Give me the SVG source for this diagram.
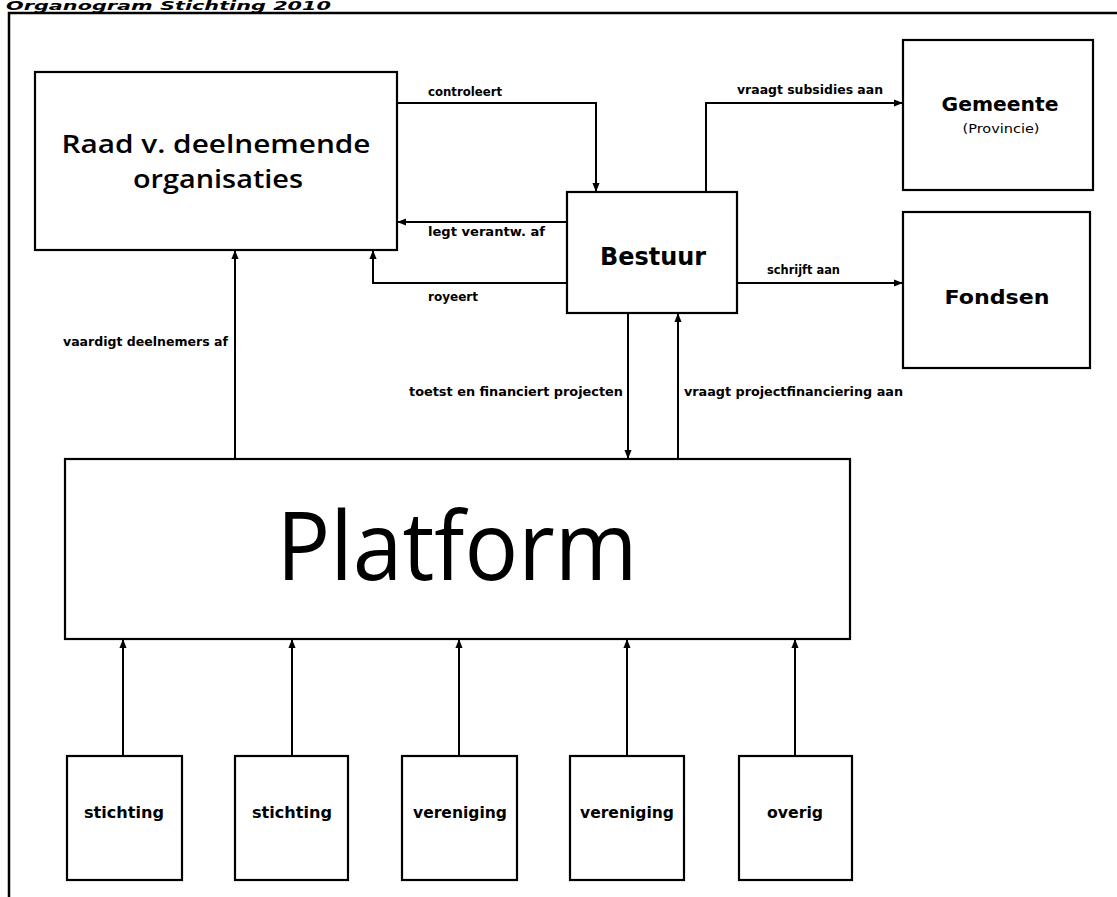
<svg xmlns="http://www.w3.org/2000/svg" width="1117" height="897" viewBox="0 0 1117 897">
<style>
.box{fill:#fff;stroke:#000;stroke-width:2.2}
.ln{fill:none;stroke:#000;stroke-width:2}
.t{font-family:"DejaVu Sans","Liberation Sans",sans-serif;fill:#000}
.big{font-family:"Open Sans","Noto Sans","DejaVu Sans",sans-serif;fill:#000}
.lab{font-family:"DejaVu Sans","Liberation Sans",sans-serif;font-size:12px;font-weight:bold;fill:#000}
.mid{text-anchor:middle}
</style>
<defs>
<marker id="ar" viewBox="0 0 10 10" refX="9" refY="5" markerWidth="9" markerHeight="9" markerUnits="userSpaceOnUse" orient="auto">
<path d="M0,1 L10,5 L0,9 Z" fill="#000"/>
</marker>
</defs>
<rect width="1117" height="897" fill="#fff"/>
<text class="t" x="6" y="10" font-size="12" font-weight="bold" font-style="italic" textLength="325" lengthAdjust="spacingAndGlyphs">Organogram Stichting 2010</text>
<path d="M9,897 L9,13 L1117,13" fill="none" stroke="#000" stroke-width="2.5"/>

<g id="connectors">
<path class="ln" d="M397,103 L596,103 L596,191" marker-end="url(#ar)"/>
<path class="ln" d="M567,222 L398,222" marker-end="url(#ar)"/>
<path class="ln" d="M567,283 L373,283 L373,251" marker-end="url(#ar)"/>
<path class="ln" d="M706,192 L706,103 L902,103" marker-end="url(#ar)"/>
<path class="ln" d="M737,283 L902,283" marker-end="url(#ar)"/>
<path class="ln" d="M235,459 L235,251" marker-end="url(#ar)"/>
<path class="ln" d="M628,313 L628,458" marker-end="url(#ar)"/>
<path class="ln" d="M678,459 L678,314" marker-end="url(#ar)"/>
<path class="ln" d="M123,756 L123,640" marker-end="url(#ar)"/>
<path class="ln" d="M292,756 L292,640" marker-end="url(#ar)"/>
<path class="ln" d="M459,756 L459,640" marker-end="url(#ar)"/>
<path class="ln" d="M627,756 L627,640" marker-end="url(#ar)"/>
<path class="ln" d="M795,756 L795,640" stroke-width="3" marker-end="url(#ar)"/>
<text class="lab" x="428" y="96" textLength="74" lengthAdjust="spacingAndGlyphs">controleert</text>
<text class="lab" x="428" y="236" textLength="117" lengthAdjust="spacingAndGlyphs">legt verantw. af</text>
<text class="lab" x="428" y="301" textLength="50" lengthAdjust="spacingAndGlyphs">royeert</text>
<text class="lab" x="737" y="94" textLength="146" lengthAdjust="spacingAndGlyphs">vraagt subsidies aan</text>
<text class="lab" x="767" y="274" textLength="73" lengthAdjust="spacingAndGlyphs">schrijft aan</text>
<text class="lab" x="63" y="346" textLength="165" lengthAdjust="spacingAndGlyphs">vaardigt deelnemers af</text>
<text class="lab" x="409" y="396" textLength="214" lengthAdjust="spacingAndGlyphs">toetst en financiert projecten</text>
<text class="lab" x="684" y="396" textLength="219" lengthAdjust="spacingAndGlyphs">vraagt projectfinanciering aan</text>
</g>

<g id="raad">
<rect class="box" x="35" y="72" width="362" height="178"/>
<text class="big mid" x="216" y="153" font-size="26" font-weight="600" textLength="309" lengthAdjust="spacingAndGlyphs">Raad v. deelnemende</text>
<text class="big mid" x="218" y="188" font-size="26" font-weight="600" textLength="170" lengthAdjust="spacingAndGlyphs">organisaties</text>
</g>
<g id="bestuur">
<rect class="box" x="567" y="192" width="170" height="121"/>
<text class="t mid" x="653" y="265" font-size="25" font-weight="bold" textLength="106" lengthAdjust="spacingAndGlyphs">Bestuur</text>
</g>
<g id="gemeente">
<rect class="box" x="903" y="40" width="190" height="150"/>
<text class="t mid" x="1000" y="111" font-size="20" font-weight="bold" textLength="117" lengthAdjust="spacingAndGlyphs">Gemeente</text>
<text class="t mid" x="1001" y="133" font-size="13" textLength="77" lengthAdjust="spacingAndGlyphs">(Provincie)</text>
</g>
<g id="fondsen">
<rect class="box" x="903" y="212" width="187" height="156"/>
<text class="t mid" x="997" y="304" font-size="20" font-weight="bold" textLength="105" lengthAdjust="spacingAndGlyphs">Fondsen</text>
</g>
<g id="platform">
<rect class="box" x="65" y="459" width="785" height="180"/>
<text class="big mid" x="457" y="580" font-size="96" font-weight="500" textLength="361" lengthAdjust="spacingAndGlyphs">Platform</text>
</g>
<g id="stichting1">
<rect class="box" x="67" y="756" width="115" height="124"/>
<text class="t mid" x="124" y="818" font-size="15" font-weight="bold" textLength="80" lengthAdjust="spacingAndGlyphs">stichting</text>
</g>
<g id="stichting2">
<rect class="box" x="235" y="756" width="113" height="124"/>
<text class="t mid" x="292" y="818" font-size="15" font-weight="bold" textLength="80" lengthAdjust="spacingAndGlyphs">stichting</text>
</g>
<g id="vereniging1">
<rect class="box" x="402" y="756" width="115" height="124"/>
<text class="t mid" x="460" y="818" font-size="15" font-weight="bold" textLength="94" lengthAdjust="spacingAndGlyphs">vereniging</text>
</g>
<g id="vereniging2">
<rect class="box" x="570" y="756" width="114" height="124"/>
<text class="t mid" x="627" y="818" font-size="15" font-weight="bold" textLength="94" lengthAdjust="spacingAndGlyphs">vereniging</text>
</g>
<g id="overig">
<rect class="box" x="739" y="756" width="113" height="124"/>
<text class="t mid" x="795" y="818" font-size="15" font-weight="bold" textLength="56" lengthAdjust="spacingAndGlyphs">overig</text>
</g>
</svg>
